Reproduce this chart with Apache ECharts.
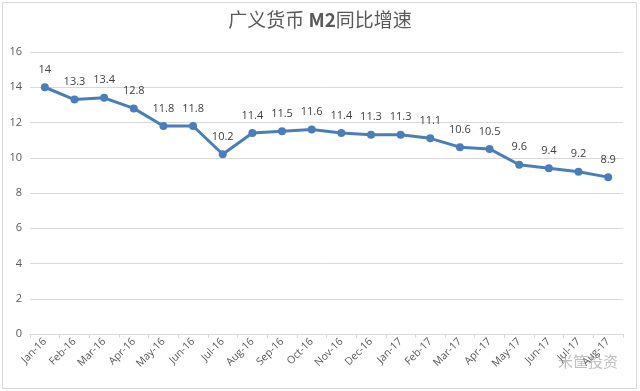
<!DOCTYPE html>
<html><head><meta charset="utf-8">
<script src="https://cdn.jsdelivr.net/npm/echarts@6/dist/echarts.min.js"></script>
<style>html,body{margin:0;padding:0;background:#fff}#c{width:640px;height:391px}</style>
</head><body><div id="c"></div>
<script>
const categories = ['Jan-16','Feb-16','Mar-16','Apr-16','May-16','Jun-16','Jul-16','Aug-16','Sep-16','Oct-16','Nov-16','Dec-16','Jan-17','Feb-17','Mar-17','Apr-17','May-17','Jun-17','Jul-17','Aug-17'];
const m2Growth = [14,13.3,13.4,12.8,11.8,11.8,10.2,11.4,11.5,11.6,11.4,11.3,11.3,11.1,10.6,10.5,9.6,9.4,9.2,8.9];
const yTicks = {min:0, max:16, interval:2};

const chart = echarts.init(document.getElementById('c'));
chart.setOption({
  animation:false,
  backgroundColor:'#fff',
  title:{
    text:'广义货币 {b|M2}同比增速',
    left:'center', top:5,
    textStyle:{fontFamily:'"Noto Sans CJK SC", sans-serif', fontSize:19, fontWeight:'normal', color:'#595959',
      rich:{b:{fontFamily:'"Noto Sans CJK SC", sans-serif', fontSize:19, fontWeight:'bold', color:'#595959'}}}
  },
  graphic:[
    {type:'rect', shape:{x:2.5,y:2.5,width:634,height:386}, style:{fill:'none', stroke:'#d9d9d9', lineWidth:1}, silent:true},
    {type:'text', left:558, top:354, style:{text:'米筐投资', fontSize:15, fill:'rgba(150,150,150,0.6)', fontFamily:'"Noto Sans CJK SC", sans-serif'}, z:100}
  ],
  grid:{left:30, right:17, top:52, bottom:57},
  xAxis:{
    type:'category', data:categories, boundaryGap:true,
    axisLine:{lineStyle:{color:'#d9d9d9'}},
    axisTick:{show:true, alignWithLabel:false, length:4, lineStyle:{color:'#d9d9d9'}},
    axisLabel:{rotate:45, fontSize:10.5, color:'#595959', margin:6, interval:0, fontFamily:'"Open Sans", sans-serif'}
  },
  yAxis:{
    type:'value', min:yTicks.min, max:yTicks.max, interval:yTicks.interval,
    axisLine:{show:false}, axisTick:{show:false},
    splitLine:{lineStyle:{color:'#d9d9d9'}},
    axisLabel:{fontSize:11, color:'#595959', margin:8, fontFamily:'"Open Sans", sans-serif'}
  },
  series:[{
    type:'line', data:m2Growth,
    lineStyle:{color:'#4a7ebb', width:3},
    itemStyle:{color:'#4a7ebb'},
    symbol:'circle', symbolSize:8,
    label:{show:true, position:'top', distance:8, fontSize:11, color:'#404040', fontFamily:'"Open Sans", sans-serif'}
  }]
});
</script></body></html>
